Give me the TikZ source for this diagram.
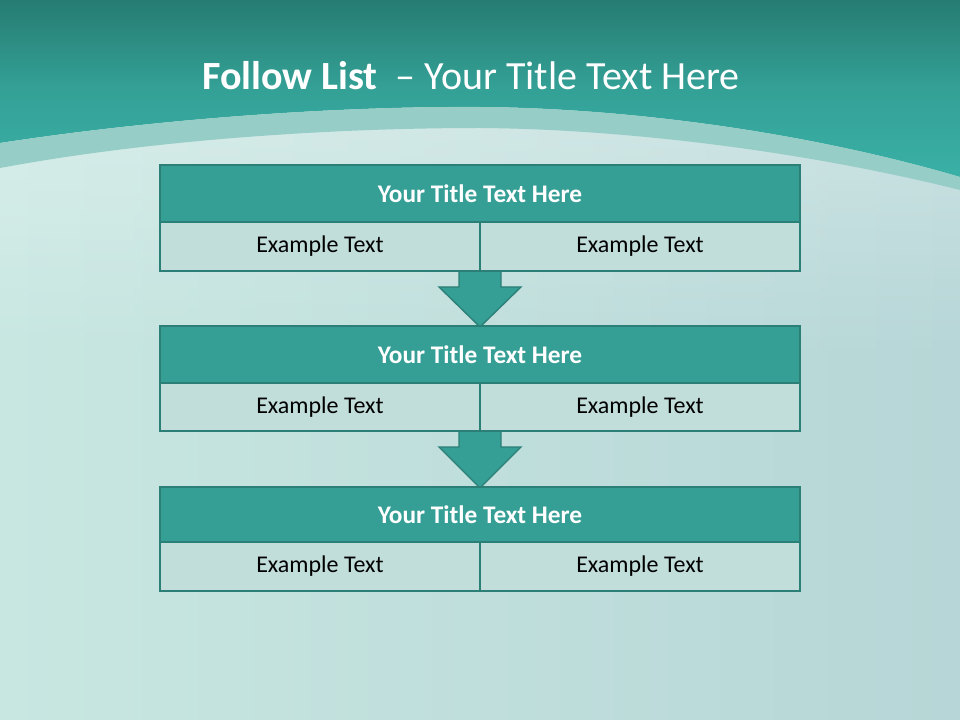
\documentclass[tikz,border=0pt]{standalone}
\usepackage{fontspec}
\setmainfont{Carlito}
\usetikzlibrary{fadings}
\definecolor{topdark}{HTML}{267C72}
\definecolor{topmid}{HTML}{3AB0A6}
\definecolor{bandc}{HTML}{96CDC7}
\definecolor{bgleft}{HTML}{C8E7E1}
\definecolor{bgright}{HTML}{B6D6D7}
\definecolor{titlefill}{HTML}{359E95}
\definecolor{boxline}{HTML}{2B7F77}
\definecolor{cellfill}{HTML}{C1DEDA}
\tikzset{
  titlebox/.style={draw=boxline, line width=2pt, fill=titlefill, text=white, font=\fontsize{19}{22}\selectfont\bfseries},
  cellbox/.style={draw=boxline, line width=2pt, fill=cellfill, text=black, font=\fontsize{18}{21}\selectfont},
  arrowshape/.style={fill=titlefill, draw=boxline, line width=1pt, line join=miter}
}
\begin{document}
\begin{tikzpicture}[x=0.75pt,y=-0.75pt]
\useasboundingbox (0,0) rectangle (960,720);
% background
\shade[left color=bgleft, right color=bgright] (0,0) rectangle (960,720);
\fill[white, opacity=0.3, path fading=south] (0,100) rectangle (960,360);
% teal top
\shade[top color=topdark, bottom color=topmid, middle color=topmid!70!topdark] (0,0) -- (960,0) -- (960,177) .. controls (800,130) and (620,108) .. (480,107) .. controls (330,106) and (150,120) .. (0,143) -- cycle;
% light band
\fill[bandc] (0,143) .. controls (150,120) and (330,106) .. (480,107) .. controls (620,108) and (800,130) .. (960,177) -- (960,190) .. controls (800,150) and (620,129) .. (480,128) .. controls (330,128) and (150,140) .. (0,168) -- cycle;
% title
\node[anchor=west, text=white, font=\fontsize{30}{34}\selectfont, inner sep=0pt] (maintitle) at (202,76) {\textbf{Follow List}\ \ – Your Title Text Here};
% arrows (drawn first, under boxes)
\foreach \i/\ys/\yh/\yt in {1/271/287/327, 2/431/447/488} {
  \draw[arrowshape] (459,\ys) -- (501,\ys) -- (501,\yh) -- (521,\yh) -- (480,\yt) -- (439,\yh) -- (459,\yh) -- cycle;
}
% boxes
\foreach \n/\ya/\yb/\yc in {a/165/222/271, b/326/383/431, c/487/542/591} {
  \node[titlebox, minimum width=640*0.75pt, minimum height=(\yb-\ya)*0.75pt, inner sep=0pt] (t\n) at (480,{(\ya+\yb)/2}) {Your Title Text Here};
  \node[cellbox, minimum width=320*0.75pt, minimum height=(\yc-\yb)*0.75pt, inner sep=0pt] (l\n) at (320,{(\yb+\yc)/2}) {Example Text};
  \node[cellbox, minimum width=320*0.75pt, minimum height=(\yc-\yb)*0.75pt, inner sep=0pt] (r\n) at (640,{(\yb+\yc)/2}) {Example Text};
}
\end{tikzpicture}
\end{document}
